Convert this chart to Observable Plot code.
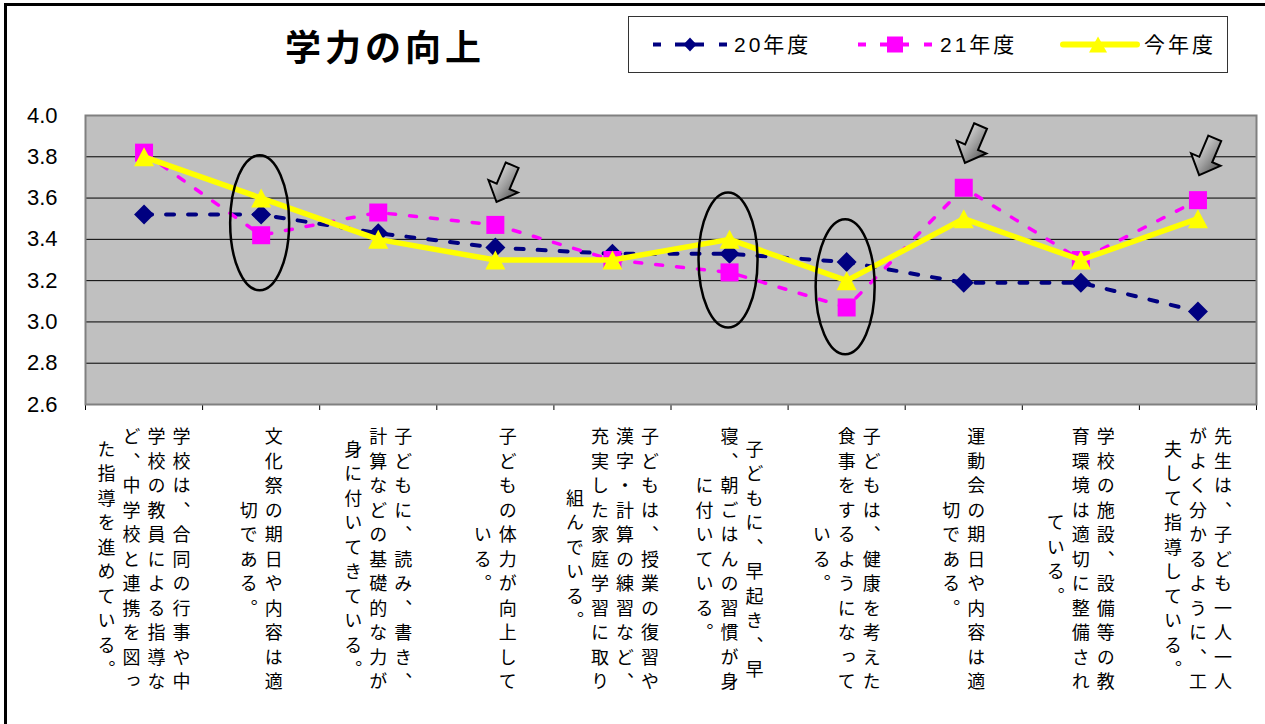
<!DOCTYPE html>
<html><head><meta charset="utf-8">
<script src="https://cdn.jsdelivr.net/npm/d3@7"></script>
<script src="https://cdn.jsdelivr.net/npm/@observablehq/plot@0.6"></script>
<style>
body{margin:0;background:#fff;}
#wrap{position:relative;width:1265px;height:724px;overflow:hidden;background:#fff;font-family:"Liberation Sans","Noto Sans CJK JP",sans-serif;}
#frame{position:absolute;left:4px;top:3px;width:1300px;height:800px;border:3px solid #000;box-sizing:border-box;pointer-events:none;z-index:5}
#header{position:relative;height:100px;}
#title{position:absolute;left:285px;top:20px;font-family:"Noto Sans CJK JP",sans-serif;font-weight:bold;font-size:36px;letter-spacing:4px;line-height:50px;white-space:nowrap;}
#legend{position:absolute;left:628px;top:16px;width:600px;height:57px;border:1.5px solid #333;box-sizing:border-box;}
.sw{position:absolute;top:0;}
.lt{position:absolute;top:0;line-height:55px;font-size:21px;letter-spacing:3px;white-space:nowrap;font-family:"Liberation Sans","Noto Sans CJK JP",sans-serif;}
text.vlabel{writing-mode:vertical-rl;text-orientation:upright;letter-spacing:6.5px;}
</style></head>
<body>
<div id="wrap">
  <div id="frame"></div>
  <div id="header">
    <div id="title">学力の向上</div>
    <div id="legend"></div>
  </div>
  <div id="chart"></div>
</div>
<script>
// ---- data ----
const categories = [
  "学校は、合同の行事や中\n学校の教員による指導な\nど、中学校と連携を図っ\nた指導を進めている。",
  "文化祭の期日や内容は適\n切である。",
  "子どもに、読み、書き、\n計算などの基礎的な力が\n身に付いてきている。",
  "子どもの体力が向上して\nいる。",
  "子どもは、授業の復習や\n漢字・計算の練習など、\n充実した家庭学習に取り\n組んでいる。",
  "子どもに、早起き、早\n寝、朝ごはんの習慣が身\nに付いている。",
  "子どもは、健康を考えた\n食事をするようになって\nいる。",
  "運動会の期日や内容は適\n切である。",
  "学校の施設、設備等の教\n育環境は適切に整備され\nている。",
  "先生は、子ども一人一人\nがよく分かるように、工\n夫して指導している。"
];
const seriesNames = ["20年度", "21年度", "今年度"];
const s20 = [3.52, 3.52, 3.43, 3.36, 3.33, 3.33, 3.29, 3.19, 3.19, 3.05];
const s21 = [3.82, 3.42, 3.53, 3.47, 3.30, 3.24, 3.07, 3.65, 3.30, 3.59];
const sNow = [3.80, 3.60, 3.40, 3.30, 3.30, 3.40, 3.20, 3.50, 3.30, 3.50];
const yTicks = [2.6, 2.8, 3.0, 3.2, 3.4, 3.6, 3.8, 4.0];
// annotations (category index, value)
const ellipseCats = [1, 5, 6];
const ellipseVals = [3.48, 3.30, 3.17];
const arrowCats = [3, 7, 9];
const arrowVals = [3.67, 3.86, 3.80];

// ---- styles ----
const colors = ["#000080", "#FF00FF", "#FFFF00"];

function poly(points) {
  return {draw(ctx) {
    ctx.moveTo(points[0][0], points[0][1]);
    for (let k = 1; k < points.length; k++) ctx.lineTo(points[k][0], points[k][1]);
    ctx.closePath();
  }};
}
const diamondSym = poly([[0,-10],[10,0],[0,10],[-10,0]]);
const squareSym = poly([[-9,-9],[9,-9],[9,9],[-9,9]]);
const triangleSym = poly([[0,-9.5],[10,9.5],[-10,9.5]]);
const ang = 23 * Math.PI / 180;
const arrowLocal = [[-7,-20],[7,-20],[7,3],[16,3],[0,20],[-16,3],[-7,3]];
const arrowSym = poly(arrowLocal.map(([x,y]) => [x*Math.cos(ang) - y*Math.sin(ang), x*Math.sin(ang) + y*Math.cos(ang)]));
const ellipseSym = {draw(ctx) {
  const rx = 29.5, ry = 67.5, k = 0.5523;
  ctx.moveTo(0, -ry);
  ctx.bezierCurveTo(k*rx, -ry, rx, -k*ry, rx, 0);
  ctx.bezierCurveTo(rx, k*ry, k*rx, ry, 0, ry);
  ctx.bezierCurveTo(-k*rx, ry, -rx, k*ry, -rx, 0);
  ctx.bezierCurveTo(-rx, -k*ry, -k*rx, -ry, 0, -ry);
  ctx.closePath();
}};

const rows = arr => arr.map((v, i) => ({i, v}));
const r20 = rows(s20), r21 = rows(s21), rNow = rows(sNow);

// label columns (vertical text, columns right-to-left)
const labelRows = [];
categories.forEach((t, i) => {
  const cols = t.split("\n");
  const n = cols.length;
  cols.forEach((c, j) => labelRows.push({i, text: c, off: ((n - 1) / 2 - j) * 25}));
});
const labelSet = new Set(labelRows.map(d => d.text));
const offs = Array.from(new Set(labelRows.map(d => d.off)));
const labelMarks = offs.map(o => Plot.text(labelRows.filter(d => d.off === o), {
  x: "i", y: yTicks[0], text: "text", dx: o, dy: 152,
  fontSize: 18, fontFamily: "Noto Sans CJK JP", fill: "#000"
}));

const boundaries = d3.range(categories.length + 1).map(k => k - 0.5);

const chart = Plot.plot({
  width: 1265, height: 624,
  marginTop: 15, marginLeft: 85, marginRight: 9, marginBottom: 320,
  style: {fontFamily: "Liberation Sans, sans-serif", fontSize: "22px", background: "transparent", color: "#000"},
  x: {domain: [-0.5, categories.length - 0.5], ticks: boundaries, tickFormat: () => "", tickSize: 6, label: null},
  y: {domain: [yTicks[0], yTicks[yTicks.length - 1]], ticks: yTicks, tickFormat: d3.format(".1f"), tickSize: 0, tickPadding: 28, label: null},
  marks: [
    Plot.frame({fill: "#C0C0C0", stroke: "none"}),
    Plot.ruleY(yTicks.slice(1, -1), {stroke: "#000", strokeWidth: 1}),
    Plot.frame({stroke: "#808080", strokeWidth: 2}),
    Plot.line(r20, {x: "i", y: "v", stroke: colors[0], strokeWidth: 4, strokeDasharray: "8,14"}),
    Plot.dot(r20, {x: "i", y: "v", symbol: diamondSym, fill: colors[0], stroke: "none", r: 10}),
    Plot.line(r21, {x: "i", y: "v", stroke: colors[1], strokeWidth: 3.5, strokeDasharray: "7,14"}),
    Plot.dot(r21, {x: "i", y: "v", symbol: squareSym, fill: colors[1], stroke: "none", r: 10}),
    Plot.line(rNow, {x: "i", y: "v", stroke: colors[2], strokeWidth: 5.5}),
    Plot.dot(rNow, {x: "i", y: "v", symbol: triangleSym, fill: colors[2], stroke: "none", r: 10}),
    Plot.dot(ellipseCats.map((c, k) => ({c, v: ellipseVals[k]})), {x: "c", y: "v", dx: -1.5, symbol: ellipseSym, fill: "none", stroke: "#000", strokeWidth: 2.5, r: 30}),
    Plot.dot(arrowCats.map((c, k) => ({c, v: arrowVals[k]})), {x: "c", y: "v", dx: 9, symbol: arrowSym, fill: "url(#arrowGrad)", stroke: "#000", strokeWidth: 2, r: 20}),
    ...labelMarks
  ]
});

const svg = d3.select(chart);
const defs = svg.insert("defs", ":first-child");
const grad = defs.append("linearGradient").attr("id", "arrowGrad")
  .attr("x1", 0).attr("y1", 0).attr("x2", 1).attr("y2", 1);
grad.append("stop").attr("offset", 0).attr("stop-color", "#ffffff");
grad.append("stop").attr("offset", 0.55).attr("stop-color", "#a0a0a0");
grad.append("stop").attr("offset", 1).attr("stop-color", "#404040");
svg.selectAll("text").filter(function() { return labelSet.has(this.textContent); })
  .classed("vlabel", true)
  .attr("writing-mode", "vertical-rl")
  .style("writing-mode", "vertical-rl")
  .style("text-orientation", "upright")
  .style("letter-spacing", "6.5px");

document.getElementById("chart").appendChild(chart);

// ---- legend ----
const legend = d3.select("#legend");
const swLeft = [24, 229, 431];
const txtLeft = [105, 311, 515];
const markerPaths = [
  "M37,20.5L43.5,27.5L37,34.5L30.5,27.5Z",
  "M29,19.5H45V35.5H29Z",
  "M38,19.5L47,35.5H29Z"
];
seriesNames.forEach((name, k) => {
  const s = legend.append("svg").attr("class", "sw").style("left", swLeft[k] + "px")
    .attr("width", 80).attr("height", 55);
  s.append("line").attr("x1", k === 2 ? 3 : 0).attr("x2", k === 2 ? 77 : 74)
    .attr("y1", 27.5).attr("y2", 27.5)
    .attr("stroke", colors[k]).attr("stroke-width", k === 2 ? 6 : 4)
    .attr("stroke-linecap", k === 2 ? "round" : "butt")
    .attr("stroke-dasharray", k === 2 ? null : "8,14,29,15,8");
  s.append("path").attr("d", markerPaths[k]).attr("fill", colors[k]);
  legend.append("div").attr("class", "lt").style("left", txtLeft[k] + "px").text(name);
});
</script>
</body></html>
